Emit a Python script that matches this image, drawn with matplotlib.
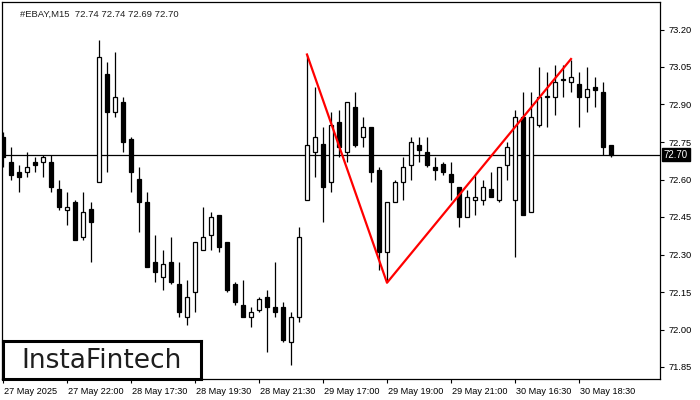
import numpy as np
import matplotlib
matplotlib.use("Agg")
import matplotlib.pyplot as plt
from matplotlib.transforms import ScaledTranslation

# ============================================================
# DATA  (#EBAY, M15)
# ============================================================

opens = [72.77, 72.67, 72.63, 72.63, 72.67, 72.67, 72.67, 72.56, 72.48, 72.51,
         72.37, 72.48, 72.59, 73.02, 72.87, 72.91, 72.76, 72.60, 72.51, 72.27,
         72.21, 72.27, 72.18, 72.05, 72.15, 72.32, 72.38, 72.46, 72.35, 72.18,
         72.10, 72.05, 72.08, 72.13, 72.09, 72.09, 71.95, 72.05, 72.52, 72.71,
         72.74, 72.59, 72.83, 72.71, 72.89, 72.77, 72.81, 72.64, 72.31, 72.51,
         72.59, 72.66, 72.74, 72.71, 72.65, 72.66, 72.62, 72.57, 72.45, 72.52,
         72.52, 72.56, 72.52, 72.66, 72.52, 72.85, 72.47, 72.82, 72.93, 72.93,
         73.00, 72.99, 72.98, 72.93, 72.97, 72.95, 72.74]
highs = [72.79, 72.73, 72.66, 72.71, 72.69, 72.70, 72.70, 72.60, 72.55, 72.52,
         72.55, 72.51, 73.16, 73.07, 73.11, 72.93, 72.77, 72.65, 72.55, 72.38,
         72.32, 72.37, 72.27, 72.20, 72.35, 72.49, 72.47, 72.46, 72.35, 72.19,
         72.20, 72.09, 72.13, 72.16, 72.27, 72.11, 72.07, 72.41, 73.10, 72.97,
         72.81, 72.87, 72.88, 72.91, 72.95, 72.85, 72.81, 72.65, 72.51, 72.60,
         72.69, 72.77, 72.77, 72.77, 72.69, 72.67, 72.67, 72.57, 72.56, 72.62,
         72.60, 72.63, 72.65, 72.75, 72.88, 72.95, 72.95, 73.05, 73.03, 73.06,
         73.06, 73.08, 73.03, 73.05, 73.01, 72.99, 72.74]
lows = [72.65, 72.60, 72.55, 72.61, 72.63, 72.61, 72.55, 72.48, 72.42, 72.36,
        72.36, 72.27, 72.59, 72.63, 72.85, 72.71, 72.55, 72.39, 72.25, 72.19,
        72.16, 72.18, 72.05, 72.02, 72.07, 72.32, 72.32, 72.31, 72.15, 72.10,
        72.05, 72.01, 72.07, 71.91, 72.05, 71.95, 71.86, 72.03, 72.52, 72.61,
        72.43, 72.55, 72.69, 72.67, 72.73, 72.73, 72.59, 72.24, 72.19, 72.51,
        72.52, 72.60, 72.67, 72.65, 72.60, 72.62, 72.52, 72.41, 72.45, 72.46,
        72.50, 72.53, 72.51, 72.60, 72.29, 72.46, 72.47, 72.81, 72.81, 72.86,
        72.93, 72.95, 72.81, 72.87, 72.89, 72.70, 72.69]
closes = [72.69, 72.62, 72.61, 72.65, 72.66, 72.69, 72.57, 72.49, 72.49, 72.36,
          72.47, 72.43, 73.09, 72.87, 72.93, 72.75, 72.63, 72.51, 72.25, 72.23,
          72.26, 72.19, 72.07, 72.13, 72.35, 72.37, 72.45, 72.33, 72.16, 72.11,
          72.05, 72.07, 72.12, 72.09, 72.07, 71.96, 72.05, 72.37, 72.74, 72.77,
          72.57, 72.82, 72.73, 72.91, 72.74, 72.81, 72.63, 72.31, 72.51, 72.59,
          72.65, 72.75, 72.72, 72.66, 72.64, 72.63, 72.59, 72.45, 72.53, 72.53,
          72.57, 72.53, 72.65, 72.73, 72.85, 72.46, 72.85, 72.93, 72.93, 72.99,
          73.00, 73.01, 72.93, 72.96, 72.96, 72.73, 72.70]

time_labels = ["27 May 2025", "27 May 22:00", "28 May 17:30", "28 May 19:30",
               "28 May 21:30", "29 May 17:00", "29 May 19:00", "29 May 21:00",
               "30 May 16:30", "30 May 18:30"]
label_every = 8

price_ticks = [71.85, 72.00, 72.15, 72.30, 72.45, 72.60, 72.75, 72.90, 73.05, 73.20]

# pattern lines: candle index, price
pattern_idx = [38, 48, 71]
pattern_px = [73.10, 72.187, 73.082]

last_price = 72.70
title_text = "#EBAY,M15  72.74 72.74 72.69 72.70"

# ============================================================
# PLOT
# ============================================================

plt.rcParams["font.family"] = ["Liberation Sans", "DejaVu Sans"]

o = np.array(opens)
h = np.array(highs)
l = np.array(lows)
c = np.array(closes)
x = np.arange(len(o))

fig = plt.figure(figsize=(7, 4), dpi=100)
ax = fig.add_axes([2 / 700, 21 / 400, 658 / 700, 377 / 400])

ax.axhline(last_price, color="black", linewidth=0.9, zorder=1)

ax.vlines(x, l, h, color="black", linewidth=0.9, zorder=2)

up = c >= o
body_lo = np.minimum(o, c)
body_h = np.maximum(np.abs(c - o), 0.003)
ax.bar(x[up], body_h[up], bottom=body_lo[up], width=0.55,
       facecolor="white", edgecolor="black", linewidth=0.9, zorder=3)
ax.bar(x[~up], body_h[~up], bottom=body_lo[~up], width=0.55,
       facecolor="black", edgecolor="black", linewidth=0.9, zorder=3)

ax.plot(pattern_idx, pattern_px, color="red", linewidth=1.6, zorder=4)

ax.set_xlim(-0.125, 82.125)
ax.set_ylim(71.802, 73.31)

for s in ax.spines.values():
    s.set_color("black")
    s.set_linewidth(0.9)

ax.yaxis.tick_right()
ax.set_yticks(price_ticks)
ax.set_yticklabels([f"{p:.2f}" for p in price_ticks])
ax.tick_params(axis="y", direction="out", length=3, width=0.8, pad=3,
               labelsize=6.7, colors="black")

ax.set_xticks(np.arange(0, len(o), label_every)[:len(time_labels)])
ax.set_xticklabels(time_labels, ha="left")
ax.tick_params(axis="x", direction="out", length=3, width=0.8, pad=2.5,
               labelsize=6.6, colors="black")
shift = ScaledTranslation(1.5 / 100, 0, fig.dpi_scale_trans)
for lab in ax.get_xticklabels():
    lab.set_transform(lab.get_transform() + shift)

ax.text(18 / 658, 1 - 12 / 377, title_text, transform=ax.transAxes,
        fontsize=6.8, color="#202020", va="center", ha="left")

# current price tag
ax.annotate(f"{last_price:.2f}", xy=(1, last_price),
            xycoords=("axes fraction", "data"),
            xytext=(2.5, 0), textcoords="offset points",
            fontsize=6.9, color="white", va="center", ha="left",
            bbox=dict(boxstyle="square,pad=0.2", facecolor="black",
                      edgecolor="black"),
            annotation_clip=False)

# logo box
logo_ax = fig.add_axes([3 / 700, 21 / 400, 198 / 700, 38 / 400])
logo_ax.set_xticks([])
logo_ax.set_yticks([])
for s in logo_ax.spines.values():
    s.set_linewidth(2.2)
    s.set_color("black")
logo_ax.text(0.5, 0.47, "InstaFintech", ha="center", va="center",
             fontsize=19, color="#1e1e1e", family="DejaVu Sans",
             transform=logo_ax.transAxes)

fig.savefig("out.png", dpi=100)
